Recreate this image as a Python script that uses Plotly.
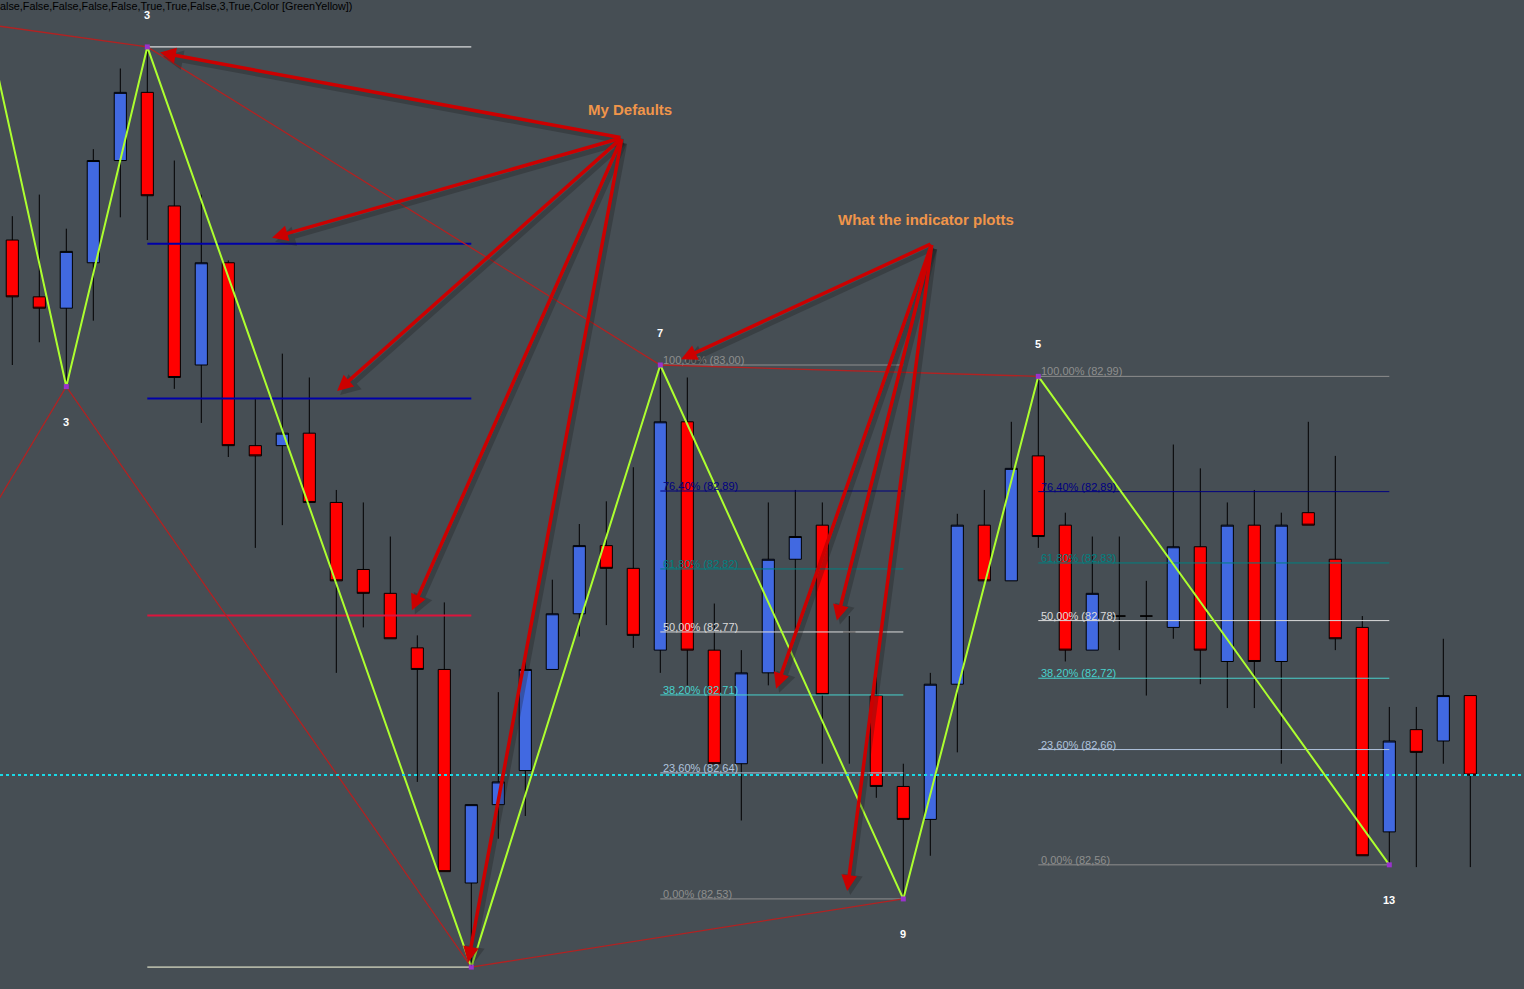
import plotly.graph_objects as go

# ---------------- data ----------------
bars = list(range(55))
opens = [83.110, 83.060, 83.050, 83.090, 83.180, 83.240, 83.140, 83.000, 83.090, 82.929,
         82.929, 82.940, 82.879, 82.820, 82.799, 82.751, 82.732, 82.544, 82.613, 82.643,
         82.732, 82.781, 82.841, 82.821, 82.749, 82.950, 82.749, 82.649, 82.729, 82.829,
         82.859, 82.765, 82.709, 82.629, 82.600, 82.719, 82.859, 82.810, 82.920, 82.859,
         82.749, 82.779, 82.779, 82.769, 82.840, 82.739, 82.859, 82.739, 82.870, 82.829,
         82.769, 82.589, 82.679, 82.669, 82.709]
highs = [83.131, 83.150, 83.120, 83.190, 83.261, 83.280, 83.180, 83.150, 83.092, 82.971,
         83.010, 82.989, 82.890, 82.879, 82.849, 82.762, 82.791, 82.613, 82.712, 82.742,
         82.811, 82.860, 82.880, 82.910, 83.000, 82.989, 82.790, 82.749, 82.879, 82.890,
         82.879, 82.779, 82.726, 82.649, 82.729, 82.869, 82.890, 82.950, 82.990, 82.870,
         82.849, 82.849, 82.810, 82.930, 82.909, 82.879, 82.890, 82.870, 82.950, 82.920,
         82.779, 82.699, 82.699, 82.759, 82.709]
lows = [83.000, 83.020, 82.981, 83.039, 83.130, 83.110, 82.979, 82.949, 82.919, 82.839,
        82.859, 82.879, 82.729, 82.769, 82.759, 82.633, 82.554, 82.470, 82.583, 82.603,
        82.732, 82.761, 82.771, 82.751, 82.729, 82.718, 82.649, 82.599, 82.718, 82.767,
        82.649, 82.649, 82.619, 82.530, 82.568, 82.659, 82.810, 82.810, 82.839, 82.739,
        82.749, 82.749, 82.709, 82.759, 82.719, 82.698, 82.698, 82.649, 82.859, 82.749,
        82.568, 82.560, 82.558, 82.649, 82.558]
closes = [83.060, 83.050, 83.100, 83.180, 83.240, 83.149, 82.989, 83.090, 82.929, 82.920,
          82.940, 82.879, 82.810, 82.799, 82.759, 82.732, 82.554, 82.613, 82.633, 82.732,
          82.781, 82.841, 82.821, 82.762, 82.950, 82.749, 82.649, 82.729, 82.829, 82.849,
          82.710, 82.765, 82.629, 82.600, 82.719, 82.859, 82.810, 82.909, 82.849, 82.749,
          82.799, 82.779, 82.779, 82.840, 82.749, 82.859, 82.739, 82.859, 82.859, 82.759,
          82.568, 82.669, 82.659, 82.709, 82.639]

# zigzag pivots (bar index, price, swing-length label)
zz_idx = [-1, 2, 5, 17, 24, 33, 38, 51]
zz_price = [83.306, 82.981, 83.280, 82.470, 83.000, 82.530, 82.990, 82.560]
zz_labels = ["", "3", "3", "", "7", "9", "5", "13"]
zz_is_high = [True, False, True, False, True, False, True, False]

# major swing connector lines
major_high_idx = [-1, 5, 24, 38]
major_high_price = [83.300, 83.280, 83.000, 82.990]
major_low_idx = [-1, 2, 17, 33]
major_low_price = [82.862, 82.981, 82.470, 82.530]

# "My Defaults" fibonacci set (drawn on swing 5 -> 17)
default_fib_swing = (5, 17)
default_ratios = [1.0, 0.786, 0.618, 0.382, 0.0]
default_colors = ["#FFFFFF", "#0000A8", "#0000A8", "#DC143C", "#FFFFE0"]
default_widths = [1, 2, 2, 2, 1]

# "What the indicator plotts" fibonacci sets
indicator_fib_swings = [(24, 33), (38, 51)]
indicator_ratios = [1.0, 0.764, 0.618, 0.5, 0.382, 0.236, 0.0]
indicator_colors = ["#8E8E8E", "#000080", "#008080", "#DCDCDC", "#48D1CC", "#B0C4DE", "#8E8E8E"]

header_text = "alse,False,False,False,False,True,True,False,3,True,Color [GreenYellow])"

# ---------------- figure ----------------
BG = "#464E54"
FONT = "Liberation Sans, Arial"
fig = go.Figure()

fig.add_trace(go.Candlestick(
    x=bars, open=opens, high=highs, low=lows, close=closes,
    increasing=dict(fillcolor="#4169E1", line=dict(color="black", width=1)),
    decreasing=dict(fillcolor="#FF0000", line=dict(color="black", width=1)),
    whiskerwidth=0, hoverinfo="skip", showlegend=False,
))

def pivot_price(i):
    return zz_price[zz_idx.index(i)]

# default fib lines
hi_i, lo_i = default_fib_swing
hp, lp = pivot_price(hi_i), pivot_price(lo_i)
for r, c, w in zip(default_ratios, default_colors, default_widths):
    lvl = lp + r * (hp - lp)
    fig.add_trace(go.Scatter(x=[hi_i, lo_i], y=[lvl, lvl], mode="lines",
                             line=dict(color=c, width=w), hoverinfo="skip", showlegend=False))

annotations = []
# indicator fib lines + labels
for hi_i, lo_i in indicator_fib_swings:
    hp, lp = pivot_price(hi_i), pivot_price(lo_i)
    for r, c in zip(indicator_ratios, indicator_colors):
        lvl = lp + r * (hp - lp)
        fig.add_trace(go.Scatter(x=[hi_i, lo_i], y=[lvl, lvl], mode="lines",
                                 line=dict(color=c, width=1), hoverinfo="skip", showlegend=False))
        txt = (f"{r*100:.2f}%" + f" ({lvl + 1e-9:.2f})").replace(".", ",")
        annotations.append(dict(x=hi_i, y=lvl, xref="x", yref="y", text=txt, showarrow=False,
                                xanchor="left", yanchor="bottom", xshift=1, yshift=-3,
                                font=dict(family=FONT, size=11, color=c)))

# major swing lines
fig.add_trace(go.Scatter(x=major_high_idx, y=major_high_price, mode="lines",
                         line=dict(color="#B22222", width=1.3), hoverinfo="skip", showlegend=False))
fig.add_trace(go.Scatter(x=major_low_idx, y=major_low_price, mode="lines",
                         line=dict(color="#B22222", width=1.3), hoverinfo="skip", showlegend=False))

# zigzag
fig.add_trace(go.Scatter(x=zz_idx, y=zz_price, mode="lines",
                         line=dict(color="#ADFF2F", width=2), hoverinfo="skip", showlegend=False))
fig.add_trace(go.Scatter(x=zz_idx, y=zz_price, mode="markers",
                         marker=dict(color="#9932CC", size=5, symbol="square"),
                         hoverinfo="skip", showlegend=False))

for i, p, lab, hi in zip(zz_idx, zz_price, zz_labels, zz_is_high):
    if lab:
        annotations.append(dict(x=i, y=p, xref="x", yref="y", text=f"<b>{lab}</b>", showarrow=False,
                                yshift=32 if hi else -35,
                                font=dict(family=FONT, size=11, color="white")))

# callout arrows (tail, tips in chart coordinates)
defaults_origin = (22.58, 83.200)
defaults_tips = [(5.47, 83.275), (9.62, 83.112), (12.03, 82.977), (14.80, 82.784), (16.88, 82.474)]
indicator_origin = (34.06, 83.107)
indicator_tips = [(24.77, 83.005), (28.29, 82.715), (30.54, 82.775), (30.92, 82.537)]

arrow_sets = [(defaults_origin, defaults_tips), (indicator_origin, indicator_tips)]
for origin, tips in arrow_sets:
    for tx, ty in tips:
        annotations.append(dict(x=tx, y=ty, xref="x", yref="y", ax=origin[0], ay=origin[1],
                                axref="x", ayref="y", text="", showarrow=True, arrowhead=2,
                                arrowsize=0.8, arrowwidth=5, arrowcolor="rgba(25,25,25,0.28)",
                                xshift=3, yshift=-4, standoff=0))
for origin, tips in arrow_sets:
    for tx, ty in tips:
        annotations.append(dict(x=tx, y=ty, xref="x", yref="y", ax=origin[0], ay=origin[1],
                                axref="x", ayref="y", text="", showarrow=True, arrowhead=2,
                                arrowsize=0.9, arrowwidth=3.5, arrowcolor="#CC0000", standoff=0))

annotations.append(dict(x=22.88, y=83.225, xref="x", yref="y", text="<b>My Defaults</b>",
                        showarrow=False, font=dict(family=FONT, size=15, color="#F0954A")))
annotations.append(dict(x=33.84, y=83.128, xref="x", yref="y", text="<b>What the indicator plotts</b>",
                        showarrow=False, font=dict(family=FONT, size=15, color="#F0954A")))

annotations.append(dict(x=0, y=1, xref="paper", yref="paper", xanchor="left", yanchor="top",
                        xshift=-2, yshift=2, showarrow=False, text=header_text,
                        font=dict(family=FONT, size=10.8, color="black")))

fig.update_layout(
    width=1524, height=989,
    margin=dict(l=0, r=0, t=0, b=0),
    paper_bgcolor=BG, plot_bgcolor=BG,
    showlegend=False,
    boxgap=0.55, boxgroupgap=0,
    annotations=annotations,
    shapes=[dict(type="line", xref="paper", x0=0, x1=1, yref="y", y0=closes[-1], y1=closes[-1],
                 line=dict(color="#19D9E6", width=2, dash="dot"))],
    xaxis=dict(range=[-0.4556, 55.989], visible=False, rangeslider=dict(visible=False),
               showgrid=False, zeroline=False),
    yaxis=dict(range=[82.4507, 83.3213], visible=False, showgrid=False, zeroline=False),
)

fig.write_html("out.html", config={"displayModeBar": False},
               post_script="document.body.style.margin='0';document.body.style.overflow='hidden';"
                           "document.body.style.background='" + BG + "';")
